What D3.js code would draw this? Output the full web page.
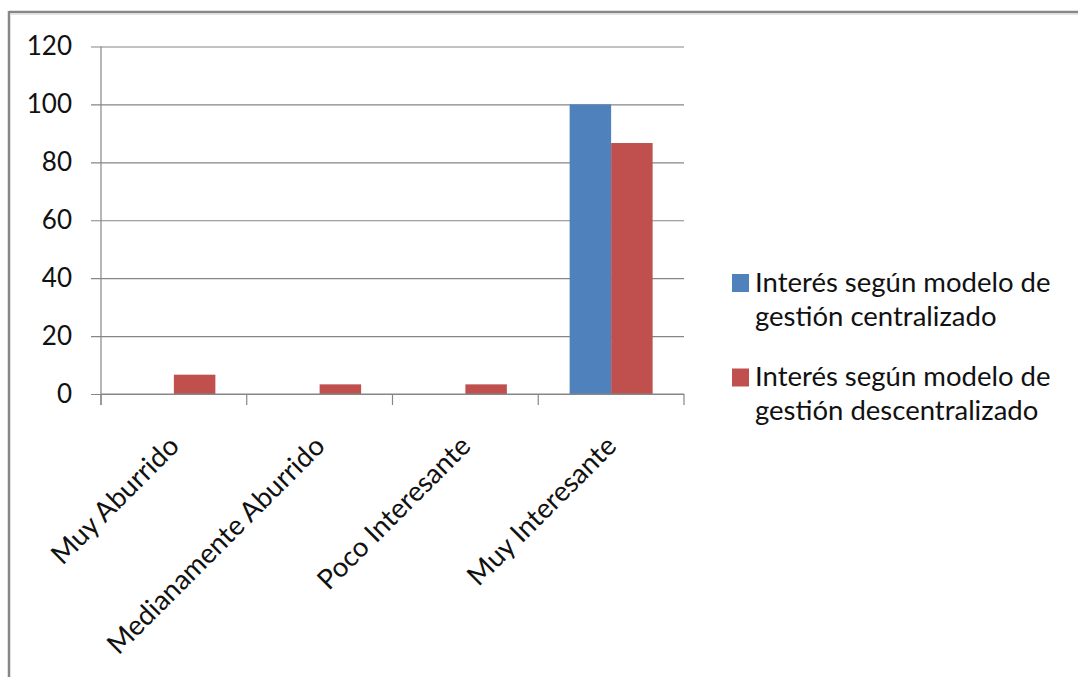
<!DOCTYPE html>
<html>
<head>
<meta charset="utf-8">
<script src="https://cdn.jsdelivr.net/npm/d3@7"></script>
<style>
  html, body { margin: 0; padding: 0; background: #fff; }
  svg { display: block; }
  text { font-family: Lato, "Open Sans", sans-serif; fill: #111; }
</style>
</head>
<body>
<svg id="chart" width="1078" height="677"></svg>
<script>
const categories = ["Muy Aburrido", "Medianamente Aburrido", "Poco Interesante", "Muy Interesante"];
const seriesNames = ["Interés según modelo de gestión centralizado", "Interés según modelo de gestión descentralizado"];
const legendLines = [["Interés según modelo de", "gestión centralizado"], ["Interés según modelo de", "gestión descentralizado"]];
const centralizado = [0, 0, 0, 100];
const descentralizado = [6.67, 3.33, 3.33, 86.67];
const yTicks = [0, 20, 40, 60, 80, 100, 120];
const colors = ["#4F81BD", "#C0504D"];

(function () {
const svg = d3.select("#chart");
const W = 1078, H = 677;
const mLeft = 101, mRight = 684, mTop = 46.5, mBottom = 394;
const tickFont = 26;
const labelFont = 27.5;

// outer frame
svg.append("line").attr("x1", 9).attr("x2", W + 5).attr("y1", 12).attr("y2", 12)
  .attr("stroke", "#878787").attr("stroke-width", 2.5);
svg.append("line").attr("x1", 11).attr("x2", W + 5).attr("y1", 14.2).attr("y2", 14.2)
  .attr("stroke", "#dcdcdc").attr("stroke-width", 1.2);
svg.append("line").attr("x1", 9).attr("x2", 9).attr("y1", 11).attr("y2", H + 5)
  .attr("stroke", "#878787").attr("stroke-width", 2.5);

const x0 = d3.scaleBand().domain(categories).range([mLeft, mRight]).paddingInner(0).paddingOuter(0);
const x1 = d3.scaleBand().domain(seriesNames).range([0, x0.bandwidth()]).paddingInner(0).paddingOuter(0.756);
const y = d3.scaleLinear().domain([0, 120]).range([mBottom, mTop]);

// gridlines + y ticks
const yAxis = d3.axisLeft(y).tickValues(yTicks).tickSize(-(mRight - mLeft)).tickSizeOuter(0).tickPadding(29);
const gy = svg.append("g").attr("transform", `translate(${mLeft},0)`).call(yAxis);
gy.select(".domain").remove();
gy.selectAll(".tick line").attr("x1", -10).attr("stroke", "#868686").attr("stroke-width", 1.2);
gy.selectAll(".tick text").attr("font-size", tickFont).attr("font-family", "Lato, 'Open Sans', sans-serif").attr("fill", "#111");

// bars
const data = categories.map((c, i) => ({ cat: c, vals: [centralizado[i], descentralizado[i]] }));
const groups = svg.append("g").selectAll("g").data(data).join("g")
  .attr("transform", d => `translate(${x0(d.cat)},0)`);
groups.selectAll("rect").data(d => d.vals.map((v, j) => ({ v, s: seriesNames[j], j })))
  .join("rect")
  .attr("x", d => x1(d.s))
  .attr("width", x1.bandwidth())
  .attr("y", d => y(d.v))
  .attr("height", d => y(0) - y(d.v))
  .attr("fill", d => colors[d.j]);

// y axis line
svg.append("line").attr("x1", mLeft).attr("x2", mLeft).attr("y1", y(120)).attr("y2", mBottom + 11)
  .attr("stroke", "#868686").attr("stroke-width", 1.2);
// x axis line
svg.append("line").attr("x1", mLeft).attr("x2", mRight).attr("y1", mBottom).attr("y2", mBottom)
  .attr("stroke", "#868686").attr("stroke-width", 1.2);
// category boundary ticks
const bounds = categories.map(c => x0(c)).concat([x0(categories[categories.length - 1]) + x0.bandwidth()]);
svg.append("g").selectAll("line").data(bounds).join("line")
  .attr("x1", d => d).attr("x2", d => d).attr("y1", mBottom).attr("y2", mBottom + 11)
  .attr("stroke", "#868686").attr("stroke-width", 1.2);

// category labels
svg.append("g").selectAll("text").data(categories).join("text")
  .attr("transform", d => `translate(${x0(d) + x0.bandwidth() / 2},441) rotate(-45)`)
  .attr("text-anchor", "end")
  .attr("dy", "0.35em")
  .attr("font-size", labelFont)
  .text(d => d);

// legend
const lg = svg.append("g").selectAll("g").data(seriesNames).join("g")
  .attr("transform", (d, i) => `translate(732,${274 + i * 94.5})`);
lg.append("rect").attr("width", 17).attr("height", 18).attr("fill", (d, i) => colors[i]);
lg.each(function (d, i) {
  const g = d3.select(this);
  legendLines[i].forEach((ln, k) => {
    g.append("text").attr("x", 23).attr("y", 17.7 + k * 34).attr("font-size", labelFont).text(ln);
  });
});
})();
</script>
</body>
</html>
